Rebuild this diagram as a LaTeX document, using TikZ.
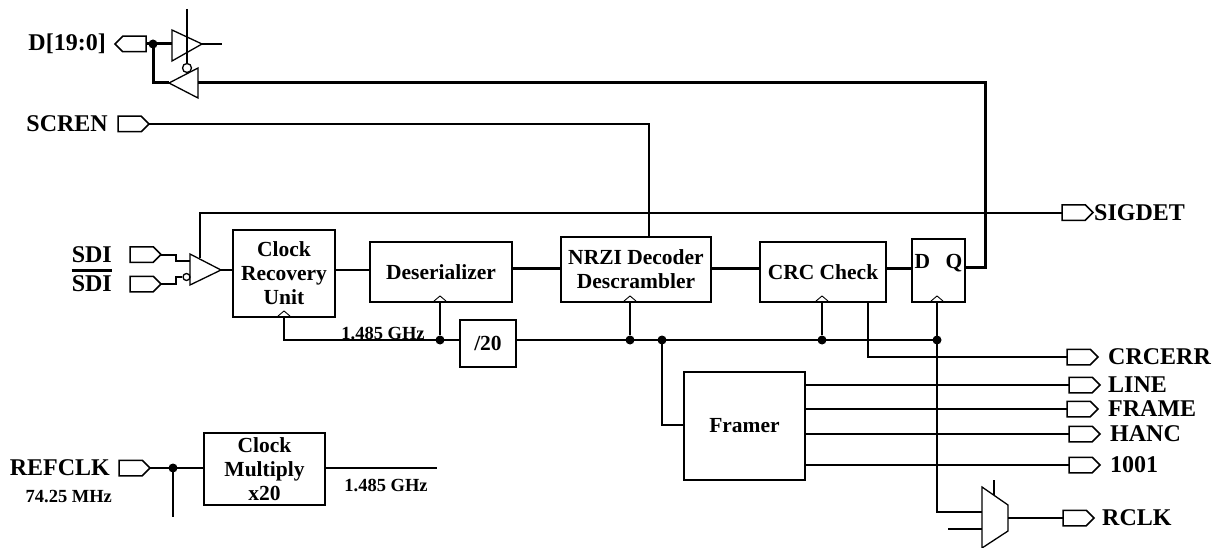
\documentclass[tikz,border=0pt]{standalone}
\usepackage{fontspec}
\setmainfont{Liberation Serif}
\usetikzlibrary{arrows.meta,positioning,calc,shapes.symbols}
\begin{document}
\begin{tikzpicture}[x=1pt, y=-1pt, node distance=9pt,
    block/.style={draw, line width=2pt, outer sep=0pt, inner sep=0pt, align=center, font=\fontsize{21.5}{24}\selectfont\bfseries},
    pad/.style={draw, line width=1.5pt, signal, signal to=east, anchor=west, outer sep=0pt, inner sep=0pt, minimum width=31pt, minimum height=15.5pt},
    padin/.style={pad, signal to=west, anchor=east},
    pinname/.style={inner sep=0pt, font=\fontsize{24}{26}\selectfont\bfseries},
    note/.style={inner sep=0pt, font=\fontsize{18.5}{20}\selectfont\bfseries},
    wire/.style={line width=2pt},
    bus/.style={line width=3pt},
    gate/.style={line width=1.3pt},
    jn/.style={circle, fill, inner sep=0pt, minimum size=9pt},
    caret/.style={line width=0.9pt}]
    \useasboundingbox (0,0) rectangle (1214,548);

    \node[block, minimum width=102pt, minimum height=87pt] (cru) at (284,273.5) {Clock\\Recovery\\Unit};
    \node[block, minimum width=142pt, minimum height=60pt] (des) at (441,272) {Deserializer};
    \node[block, minimum width=150pt, minimum height=65pt] (nrzi) at (636,269.5) {NRZI Decoder\\Descrambler};
    \node[block, minimum width=126pt, minimum height=60pt] (crc) at (823,272) {CRC Check};
    \node[block, minimum width=53pt, minimum height=63pt] (dff) at (938.5,270.5) {\raisebox{18pt}{D\hspace{0.72em}Q}};
    \node[block, minimum width=56pt, minimum height=47pt] (div) at (488,343.5) {/20};
    \node[block, minimum width=121pt, minimum height=108pt] (framer) at (744.5,426) {Framer};
    \node[block, minimum width=121pt, minimum height=72pt] (mult) at (264.5,469) {Clock\\Multiply\\x20};

    \node[padin] (dpad) at (146,44) {};
    \node[pad] (screnpad) at (118,124) {};
    \node[pad] (sdipad) at (130,254.5) {};
    \node[pad] (sdibpad) at (130,284) {};
    \node[pad] (refpad) at (119,468) {};
    \node[pad] (sigpad) at (1062,212.5) {};
    \node[pad] (crcpad) at (1067,357) {};
    \node[pad] (linepad) at (1069,385) {};
    \node[pad] (framepad) at (1067,409) {};
    \node[pad] (hancpad) at (1069,434) {};
    \node[pad] (onepad) at (1069,465) {};
    \node[pad] (rclkpad) at (1063,518) {};

    \node[pinname, left=of dpad] (dname) {D[19:0]};
    \node[pinname, left=10pt of screnpad] (screnname) {SCREN};
    \node[pinname, left=18pt of sdipad] (sdiname) {SDI};
    \node[pinname, left=18pt of sdibpad] (sdibname) {SDI};
    \node[pinname, left=of refpad] (refname) {REFCLK};
    \node[pinname, right=1pt of sigpad] (signame) {SIGDET};
    \node[pinname, right=10pt of crcpad] (crcname) {CRCERR};
    \node[pinname, right=8pt of linepad] (linename) {LINE};
    \node[pinname, right=10pt of framepad] (framename) {FRAME};
    \node[pinname, right=10pt of hancpad] (hancname) {HANC};
    \node[pinname, right=10pt of onepad] (onename) {1001};
    \node[pinname, right=8pt of rclkpad] (rclkname) {RCLK};
    \node[note, below=14pt of refname.south, xshift=9pt] (refnote) {74.25 MHz};
    \node[note] (rxnote) at (383,333) {1.485 GHz};
    \node[note] (txnote) at (386,485) {1.485 GHz};

    \draw[line width=3pt] (sdiname.south west |- 0,270) -- (sdiname.south east |- 0,270);

    % transceiver gates
    \draw[gate] (172,30) -- (202,44) -- (172,61) -- cycle;
    \draw[gate] (169,83) -- (198,68) -- (198,98) -- cycle;
    \node[draw, gate, circle, inner sep=0pt, minimum size=9pt] (ena) at (187,68) {};
    \draw[gate] (190,254) -- (221,270) -- (190,285) -- cycle;
    \node[draw, gate, circle, inner sep=0pt, minimum size=7pt] (rxinv) at (186.5,277) {};
    \draw[gate] (982,487) -- (1008,505) -- (1008,531) -- (982,548) -- cycle;

    \coordinate (bufin) at (172,44);
    \coordinate (bufout) at (202,44);
    \coordinate (bufend) at (222,44);
    \coordinate (enatop) at (187,9);
    \coordinate (enabot) at (187,37);
    \coordinate (retin) at (198,83);
    \coordinate (retout) at (169,83);
    \coordinate (qturn) at (985,83);
    \coordinate (rxtop) at (200,258);
    \coordinate (rxa) at (190,261);
    \coordinate (rxout) at (221,270);
    \coordinate (muxa) at (982,512);
    \coordinate (muxb) at (982,529);
    \coordinate (muxbfree) at (948,529);
    \coordinate (muxout) at (1008,518);
    \coordinate (muxsel) at (994,495);
    \coordinate (muxselfree) at (994,480);
    \coordinate (refend) at (173,517);
    \coordinate (txend) at (437,468);

    \node[jn] (dtap) at (153,44) {};
    \node[jn] (reftap) at (173,468) {};
    \node[jn] (tapdes) at (440,340) {};
    \node[jn] (tapnrzi) at (630,340) {};
    \node[jn] (tapfr) at (662,340) {};
    \node[jn] (tapcrc) at (822,340) {};
    \node[jn] (tapdff) at (937,340) {};

    \draw[bus] (dpad.east) -- (bufin);
    \draw[bus] (dtap.center) -- (153,83) -- (retout);
    \draw[wire] (bufout) -- (bufend);
    \draw[wire] (enatop) -- (enabot);
    \draw[gate] (enabot) -- (ena);
    \draw[bus] (retin) -- (qturn) -- (qturn |- 0,267) -- (dff.east |- 0,267);

    \draw[wire] (screnpad.east) -| (649,237);
    \draw[wire] (rxtop) |- (sigpad.west);
    \draw[wire] (sdipad.east) -- (176,254.5) -- (176,261) -- (rxa);
    \draw[wire] (sdibpad.east) -- (176,284) -- (176,277) -- (rxinv);
    \draw[wire] (rxout) -- (rxout -| cru.west);

    \draw[wire] (cru.east |- 0,270) -- (des.west |- 0,270);
    \draw[bus] (des.east |- 0,268) -- (nrzi.west |- 0,268);
    \draw[bus] (nrzi.east |- 0,268) -- (crc.west |- 0,268);
    \draw[bus] (crc.east |- 0,268) -- (dff.west |- 0,268);

    \draw[wire] (284,317) |- (div.west |- tapdes);
    \draw[wire] (tapdes) -- (tapdes |- des.south);
    \draw[wire] (div.east |- tapdes) -- (tapdff.center);
    \draw[wire] (tapnrzi) -- (tapnrzi |- nrzi.south);
    \draw[wire] (tapcrc) -- (tapcrc |- crc.south);
    \draw[wire] (tapdff |- dff.south) -- (tapdff |- muxa) -- (muxa);
    \draw[wire] (tapfr.center) |- (framer.west |- 0,425);

    \draw[wire] (868,302) |- (crcpad.west);
    \draw[wire] (framer.east |- linepad) -- (linepad.west);
    \draw[wire] (framer.east |- framepad) -- (framepad.west);
    \draw[wire] (framer.east |- hancpad) -- (hancpad.west);
    \draw[wire] (framer.east |- onepad) -- (onepad.west);

    \draw[wire] (muxbfree) -- (muxb);
    \draw[wire] (muxselfree) -- (muxsel);
    \draw[wire] (muxout) -- (rclkpad.west);

    \draw[wire] (refpad.east) -- (mult.west |- refpad);
    \draw[wire] (reftap.center) -- (refend);
    \draw[wire] (mult.east |- refpad) -- (txend);

    \foreach \px/\py in {284/317, 440/302, 630/302, 822/302, 937/302}
        \draw[caret] (\px-6,\py-1) -- (\px,\py-6) -- (\px+6,\py-1);
\end{tikzpicture}
\end{document}
